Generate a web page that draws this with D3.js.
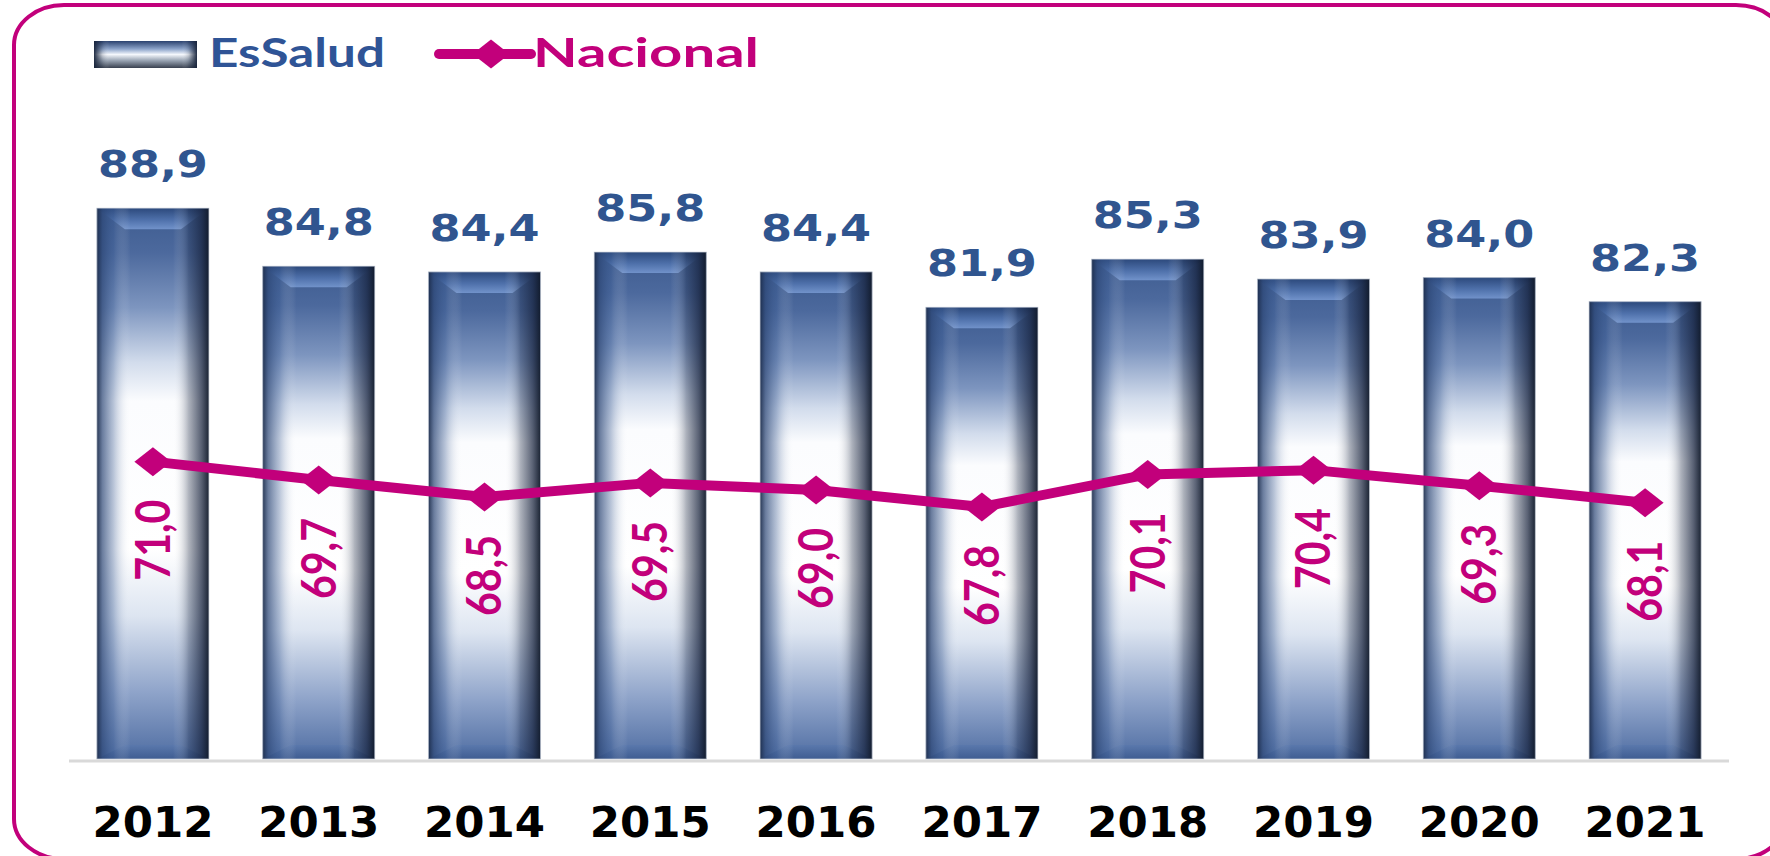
<!DOCTYPE html>
<html>
<head>
<meta charset="utf-8">
<script src="https://cdn.jsdelivr.net/npm/d3@7"></script>
<style>
  html, body { margin: 0; padding: 0; background: #fff; }
  svg { display: block; }
</style>
</head>
<body>
<div id="chart"></div>
<script>
const years = ['2012', '2013', '2014', '2015', '2016', '2017', '2018', '2019', '2020', '2021'];
const essalud = [88.9, 84.8, 84.4, 85.8, 84.4, 81.9, 85.3, 83.9, 84.0, 82.3];
const nacional = [71.0, 69.7, 68.5, 69.5, 69.0, 67.8, 70.1, 70.4, 69.3, 68.1];
const seriesNames = ['EsSalud', 'Nacional'];

const W = 1770;
const H = 856;
const blue = '#30558f';
const magenta = '#c2007b';

const fmt = v => d3.format('.1f')(v).replace('.', ',');

const svg = d3.select('#chart').append('svg').attr('width', W).attr('height', H);
const defs = svg.append('defs');

function grad(id, stops, vertical) {
  const g = defs.append('linearGradient').attr('id', id)
    .attr('x1', 0).attr('y1', 0)
    .attr('x2', vertical ? 0 : 1).attr('y2', vertical ? 1 : 0);
  stops.forEach(s => g.append('stop')
    .attr('offset', s[0]).attr('stop-color', s[1]).attr('stop-opacity', s[2] === undefined ? 1 : s[2]));
}

// bar body: blue at the ends, white in the middle
grad('gBody', [
  [0, '#3d5b8f'], [0.08, '#4c699d'], [0.18, '#7d95bf'], [0.28, '#d2dcec'],
  [0.35, '#fbfcfe'], [0.62, '#ffffff'], [0.74, '#dde5f1'], [0.88, '#8ea3c9'], [1, '#4f6da2'],
], true);
// dark side edges
grad('gSide', [
  [0, '#1c2c4a', 0.95], [0.05, '#2c4675', 0.7], [0.15, '#3a5a90', 0.35], [0.3, '#ffffff', 0],
  [0.68, '#ffffff', 0], [0.82, '#1b2741', 0.35], [0.93, '#15203a', 0.7], [1, '#0f1828', 0.95],
], false);
grad('gTop', [[0, '#2c497c'], [0.55, '#4e70aa'], [1, '#7192ca']], true);
grad('gBot', [[0, '#5a78ac'], [1, '#3f5d92']], true);
grad('gLeg', [
  [0, '#2a416e'], [0.3, '#8ea5cb'], [0.5, '#f4f7fc'], [0.72, '#9aa5b4'], [1, '#394150'],
], true);
grad('gLegSide', [
  [0, '#17233a', 0.95], [0.08, '#17233a', 0.2], [0.15, '#fff', 0],
  [0.85, '#fff', 0], [0.92, '#17233a', 0.2], [1, '#17233a', 0.95],
], false);

// frame
svg.append('rect')
  .attr('x', 14).attr('y', 5).attr('width', 1772).attr('height', 854)
  .attr('rx', 50).attr('ry', 40)
  .attr('fill', 'none').attr('stroke', magenta).attr('stroke-width', 4);

const x = d3.scaleBand().domain(years).range([70, 1728]).paddingInner(0.324).paddingOuter(0.162);
const y = d3.scaleLinear().domain([50, 100]).range([759, 51]);

// category axis
const axis = svg.append('g').attr('transform', `translate(0,${y(50)})`)
  .call(d3.axisBottom(x).tickSize(0).tickPadding(0));
axis.select('.domain').attr('stroke', '#d9d9d9').attr('stroke-width', 3)
  .attr('d', `M${x.range()[0] - 1},2H${x.range()[1] + 1}`);
axis.selectAll('.tick text')
  .attr('y', 78)
  .attr('dy', 0)
  .attr('font-family', 'DejaVu Sans, Verdana, sans-serif')
  .attr('font-weight', 'bold')
  .attr('font-size', 42)
  .attr('fill', '#000')
  .attr('textLength', 121)
  .attr('lengthAdjust', 'spacingAndGlyphs');

// bars
const bw = x.bandwidth();
const bevX = 28;
const bevY = 21;
const bars = svg.append('g').selectAll('g').data(years).join('g')
  .attr('transform', d => `translate(${x(d)},0)`);

bars.append('rect')
  .attr('y', (d, i) => y(essalud[i]))
  .attr('width', bw)
  .attr('height', (d, i) => y(50) - y(essalud[i]))
  .attr('fill', 'url(#gBody)');

bars.append('path')
  .attr('d', (d, i) => {
    const t = y(essalud[i]);
    return `M0,${t}H${bw}L${bw - bevX},${t + bevY}H${bevX}Z`;
  })
  .attr('fill', 'url(#gTop)');

bars.append('path')
  .attr('d', () => {
    const b = y(50);
    return `M0,${b}H${bw}L${bw - bevX},${b - 14}H${bevX}Z`;
  })
  .attr('fill', 'url(#gBot)');

bars.append('rect')
  .attr('y', (d, i) => y(essalud[i]))
  .attr('width', bw)
  .attr('height', (d, i) => y(50) - y(essalud[i]))
  .attr('fill', 'url(#gSide)')
  .attr('stroke', '#c9ced8').attr('stroke-width', 1).attr('stroke-opacity', 0.7);

// bar value labels
svg.append('g').selectAll('text').data(years).join('text')
  .attr('x', d => x(d) + bw / 2)
  .attr('y', (d, i) => y(essalud[i]) - 31)
  .attr('text-anchor', 'middle')
  .attr('font-family', 'DejaVu Sans, Verdana, sans-serif')
  .attr('font-weight', 'bold')
  .attr('font-size', 37)
  .attr('fill', blue)
  .attr('textLength', 110)
  .attr('lengthAdjust', 'spacingAndGlyphs')
  .text((d, i) => fmt(essalud[i]));

// national line
const line = d3.line()
  .x((d, i) => x(years[i]) + bw / 2)
  .y(d => y(d));

svg.append('path')
  .datum(nacional)
  .attr('d', line)
  .attr('fill', 'none')
  .attr('stroke', magenta)
  .attr('stroke-width', 10)
  .attr('stroke-linejoin', 'round');

const diamond = (cx, cy) => `M${cx - 18.5},${cy}L${cx},${cy - 14.5}L${cx + 18.5},${cy}L${cx},${cy + 14.5}Z`;

svg.append('g').selectAll('path').data(nacional).join('path')
  .attr('d', (d, i) => diamond(x(years[i]) + bw / 2, y(d)))
  .attr('fill', magenta);

svg.append('g').selectAll('text').data(nacional).join('text')
  .attr('transform', (d, i) => `translate(${x(years[i]) + bw / 2},${y(d) + 38}) rotate(-90)`)
  .attr('text-anchor', 'end')
  .attr('dy', '0.36em')
  .attr('font-family', 'Lato, "Open Sans", sans-serif')
  .attr('font-weight', 'bold')
  .attr('font-size', 47)
  .attr('fill', magenta)
  .attr('textLength', 81)
  .attr('lengthAdjust', 'spacingAndGlyphs')
  .text(d => fmt(d));

// legend
const leg = svg.append('g');
leg.append('rect').attr('x', 94).attr('y', 41).attr('width', 103).attr('height', 27)
  .attr('fill', 'url(#gLeg)');
leg.append('rect').attr('x', 94).attr('y', 41).attr('width', 103).attr('height', 27)
  .attr('fill', 'url(#gLegSide)');
leg.append('text')
  .attr('x', 209).attr('y', 67)
  .attr('font-family', 'Lato, sans-serif').attr('font-weight', 'bold')
  .attr('font-size', 40).attr('fill', '#2f5496')
  .attr('textLength', 176).attr('lengthAdjust', 'spacingAndGlyphs')
  .text(seriesNames[0]);

leg.append('line').attr('x1', 439).attr('x2', 531).attr('y1', 54).attr('y2', 54)
  .attr('stroke', magenta).attr('stroke-width', 10).attr('stroke-linecap', 'round');
leg.append('path').attr('d', diamond(491, 54)).attr('fill', magenta);
leg.append('text')
  .attr('x', 533).attr('y', 67)
  .attr('font-family', 'Lato, sans-serif').attr('font-weight', 'bold')
  .attr('font-size', 40).attr('fill', magenta)
  .attr('textLength', 226).attr('lengthAdjust', 'spacingAndGlyphs')
  .text(seriesNames[1]);
</script>
</body>
</html>
